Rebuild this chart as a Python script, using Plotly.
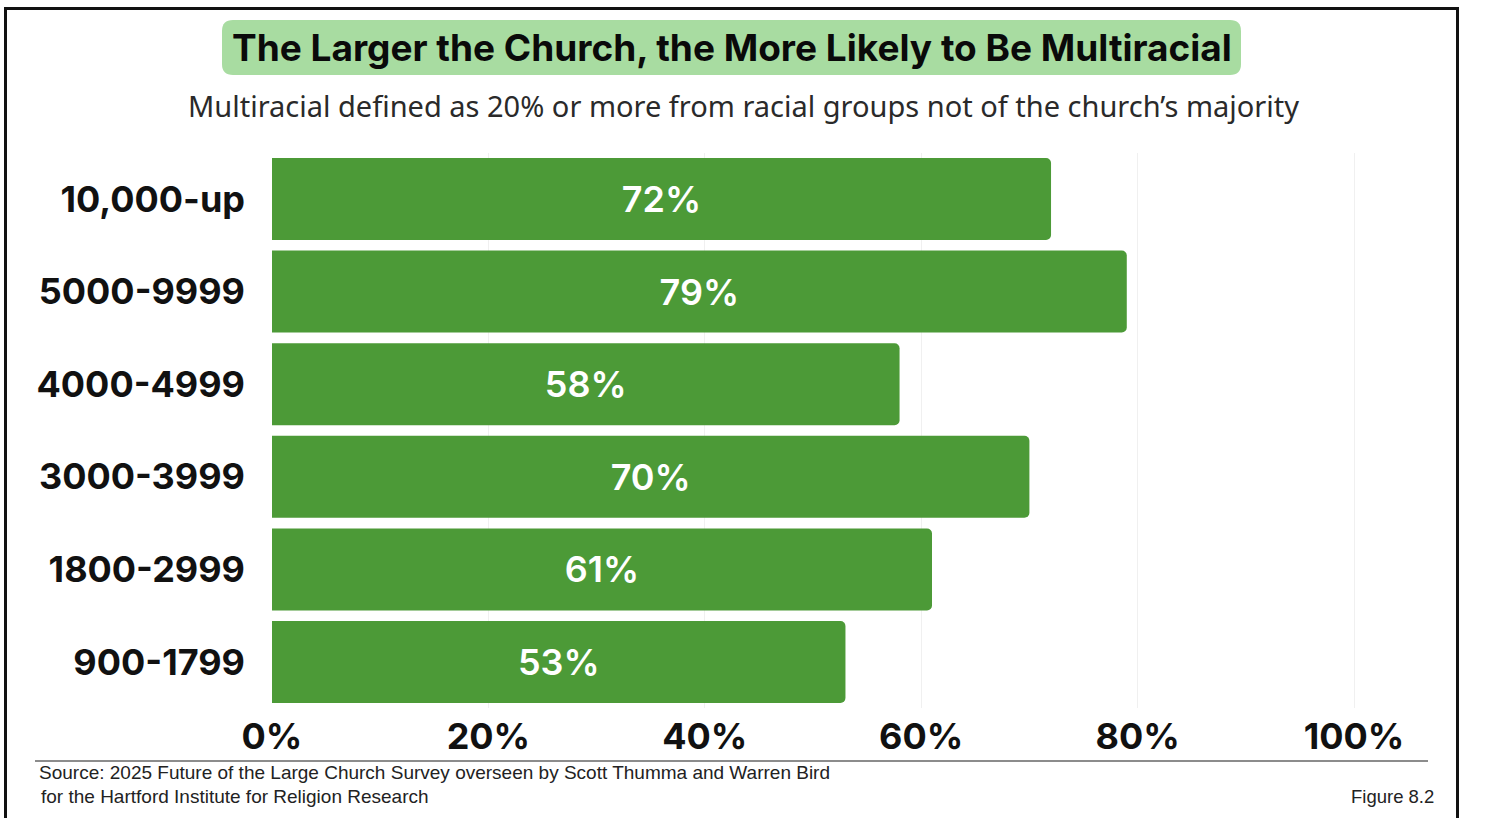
import plotly.graph_objects as go

# Church size categories (top to bottom) and share that is multiracial
sizes = ["10,000-up", "5000-9999", "4000-4999", "3000-3999", "1800-2999", "900-1799"]
pct_multiracial = [72, 79, 58, 70, 61, 53]
tick_values = [0, 20, 40, 60, 80, 100]
tick_labels = ["0%", "20%", "40%", "60%", "80%", "100%"]

W, H = 1486, 818


def px(x):
    return x / W


def py(y):
    return 1 - y / H


BAR_GREEN = "#4c9a37"
TITLE_GREEN = "#a8dca1"

fig = go.Figure(
    go.Bar(
        x=pct_multiracial,
        y=sizes,
        orientation="h",
        marker=dict(color=BAR_GREEN, line=dict(width=0)),
        text=[f"{v}%" for v in pct_multiracial],
        textposition="inside",
        insidetextanchor="middle",
        textfont=dict(family="Inter", size=36, color="white", weight=600),
        hoverinfo="skip",
    )
)

# Plot area placed in pixel terms (margins are zero, so paper == pixels)
x_left, px_per_unit = 272, 10.82
x_max = 106
fig.update_xaxes(
    domain=[px(x_left), px(x_left + x_max * px_per_unit)],
    range=[0, x_max],
    tickvals=tick_values,
    ticktext=tick_labels,
    showgrid=True,
    gridcolor="#f0f0f0",
    gridwidth=1,
    zeroline=False,
    showline=False,
    ticks="",
    automargin=False,
    ticklabelstandoff=4,
    tickfont=dict(family="Inter", size=36, color="#111", weight=700),
)
fig.update_yaxes(
    domain=[py(708.3), py(152.7)],
    categoryorder="array",
    categoryarray=sizes,
    range=[5.5, -0.5],
    showgrid=False,
    zeroline=False,
    showline=False,
    ticks="",
    automargin=False,
    ticklabelstandoff=26,
    tickfont=dict(family="Inter", size=36, color="#111", weight=700),
)


def rounded_rect(x0, y0, x1, y1, r):
    # Rounded rectangle as an SVG path in paper coordinates (y down in pixels)
    pts = [
        f"M {px(x0 + r)},{py(y0)}",
        f"L {px(x1 - r)},{py(y0)}",
        f"Q {px(x1)},{py(y0)} {px(x1)},{py(y0 + r)}",
        f"L {px(x1)},{py(y1 - r)}",
        f"Q {px(x1)},{py(y1)} {px(x1 - r)},{py(y1)}",
        f"L {px(x0 + r)},{py(y1)}",
        f"Q {px(x0)},{py(y1)} {px(x0)},{py(y1 - r)}",
        f"L {px(x0)},{py(y0 + r)}",
        f"Q {px(x0)},{py(y0)} {px(x0 + r)},{py(y0)}",
        "Z",
    ]
    return " ".join(pts)


shapes = [
    # Title pill
    dict(
        type="path",
        xref="paper",
        yref="paper",
        path=rounded_rect(222, 20, 1241, 75, 11),
        fillcolor=TITLE_GREEN,
        line=dict(width=0),
        layer="below",
    ),
    # Outer frame (left, top, right)
    dict(
        type="path",
        xref="paper",
        yref="paper",
        path=f"M {px(5.5)},{py(830)} L {px(5.5)},{py(8.5)} L {px(1457.5)},{py(8.5)} L {px(1457.5)},{py(830)}",
        line=dict(color="#111111", width=3),
    ),
    # Rule above the source note
    dict(
        type="line",
        xref="paper",
        yref="paper",
        x0=px(35),
        x1=px(1428),
        y0=py(761),
        y1=py(761),
        line=dict(color="#8c8c8c", width=2),
    ),
]

annotations = [
    dict(
        text="The Larger the Church, the More Likely to Be Multiracial",
        x=px(731.5),
        y=py(47.5),
        xref="paper",
        yref="paper",
        xanchor="center",
        yanchor="middle",
        showarrow=False,
        font=dict(family="Inter", size=37, color="#0a0a0a", weight=700),
    ),
    dict(
        text="Multiracial defined as 20% or more from racial groups not of the church’s majority",
        x=px(743),
        y=py(106),
        xref="paper",
        yref="paper",
        xanchor="center",
        yanchor="middle",
        showarrow=False,
        font=dict(family="Noto Sans", size=29, color="#2a2a2a"),
    ),
    dict(
        text="Source: 2025 Future of the Large Church Survey overseen by Scott Thumma and Warren Bird",
        x=px(37),
        y=py(772),
        xref="paper",
        yref="paper",
        xanchor="left",
        yanchor="middle",
        showarrow=False,
        font=dict(family="Liberation Sans", size=19, color="#222"),
    ),
    dict(
        text="for the Hartford Institute for Religion Research",
        x=px(39),
        y=py(796),
        xref="paper",
        yref="paper",
        xanchor="left",
        yanchor="middle",
        showarrow=False,
        font=dict(family="Liberation Sans", size=19, color="#222"),
    ),
    dict(
        text="Figure 8.2",
        x=px(1436),
        y=py(796),
        xref="paper",
        yref="paper",
        xanchor="right",
        yanchor="middle",
        showarrow=False,
        font=dict(family="Liberation Sans", size=18.5, color="#222"),
    ),
]

fig.update_layout(
    width=W,
    height=H,
    margin=dict(l=0, r=0, t=0, b=0),
    paper_bgcolor="white",
    plot_bgcolor="white",
    bargap=0.115,
    barcornerradius=5,
    showlegend=False,
    shapes=shapes,
    annotations=annotations,
)

fig.write_html("out.html", config={"displayModeBar": False})
